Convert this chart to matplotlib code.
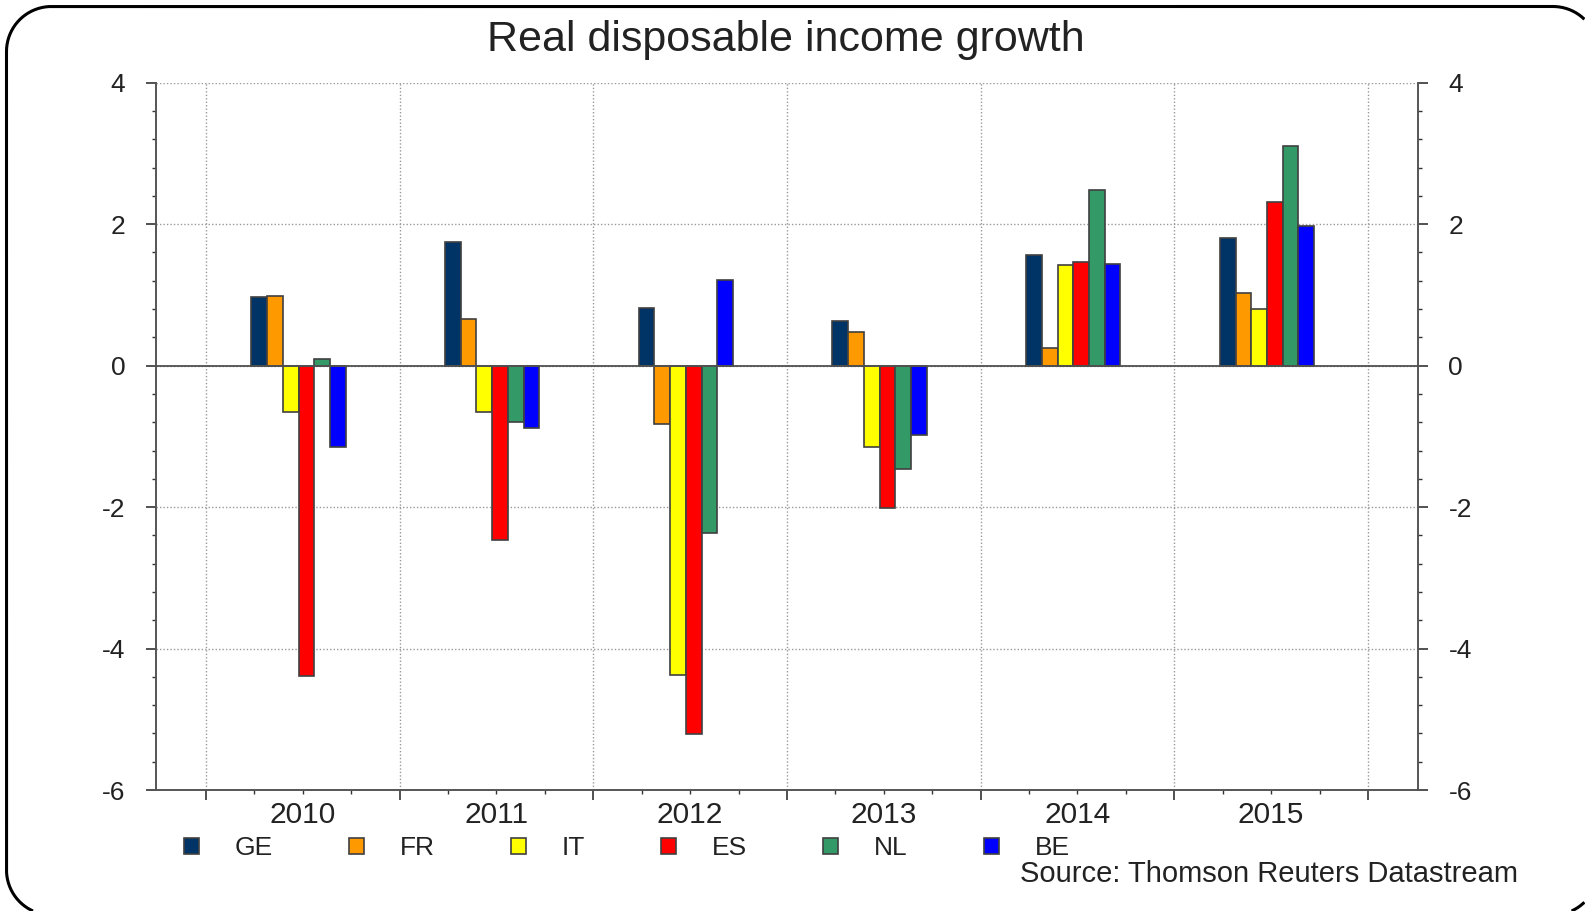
import numpy as np
import matplotlib.pyplot as plt
from matplotlib.lines import Line2D
from matplotlib.patches import Patch
from matplotlib.ticker import MultipleLocator, FixedLocator

plt.rcParams['font.family'] = ['Liberation Sans', 'DejaVu Sans']
plt.rcParams['axes.unicode_minus'] = False

years = ['2010', '2011', '2012', '2013', '2014', '2015']
countries = ['GE', 'FR', 'IT', 'ES', 'NL', 'BE']
colors = ['#003366', '#FF9900', '#FFFF00', '#FF0000', '#339966', '#0000FF']

ge = [0.97, 1.75, 0.81, 0.63, 1.56, 1.80]
fr = [0.99, 0.66, -0.83, 0.48, 0.25, 1.02]
it = [-0.66, -0.66, -4.37, -1.15, 1.42, 0.80]
es = [-4.39, -2.47, -5.21, -2.01, 1.47, 2.31]
nl = [0.09, -0.79, -2.36, -1.46, 2.49, 3.11]
be = [-1.15, -0.88, 1.21, -0.98, 1.43, 1.97]
series = [ge, fr, it, es, nl, be]

W, H = 1585, 911
fig = plt.figure(figsize=(W / 100, H / 100), dpi=100)
ax = fig.add_axes([0.0984, 0.1328, 0.7962, 0.7764])

# rounded frame (pixel coords); it runs off the right and bottom edges,
# so only the part inside the canvas is kept
def corner(cx, cy, a0, a1, r=45):
    a = np.radians(np.linspace(a0, a1, 60))
    return cx + r * np.cos(a), cy + r * np.sin(a)

xl, xr, yb, yt = 6.5, 1598, -4, H - 6.5
pieces = [corner(xr - 45, yb + 45, 270, 360),
          corner(xr - 45, yt - 45, 0, 90),
          corner(xl + 45, yt - 45, 90, 180),
          corner(xl + 45, yb + 45, 180, 270)]
px = np.concatenate([p[0] for p in pieces] + [pieces[0][0][:1]])
py = np.concatenate([p[1] for p in pieces] + [pieces[0][1][:1]])
inside = (px <= W) & (py >= 0)
px = np.where(inside, px, np.nan)
py = np.where(inside, py, np.nan)
fig.add_artist(Line2D(px, py, transform=None, color='black', lw=2.2,
                      solid_capstyle='butt'))

x = np.arange(len(years))
w = 0.081
for i, (vals, col) in enumerate(zip(series, colors)):
    ax.bar(x + (i - 2.5) * w - 0.022, vals, width=w, color=col,
           edgecolor='#404040', linewidth=1.2, zorder=3)

ax.axhline(0, color='#505050', lw=1.3, zorder=4)

ax.set_xlim(-0.758, 5.758)
ax.set_ylim(-6, 4)

# year boundaries as major ticks, quarters as minor ticks (labels at centres)
bounds = np.arange(-0.5, 6.0, 1.0)
ax.xaxis.set_major_locator(FixedLocator(bounds))
ax.set_xticklabels([])
quarters, qlabels = [], []
for k, yr in enumerate(years):
    for q, lab in ((0.25, ''), (0.5, yr), (0.75, '')):
        quarters.append(bounds[k] + q)
        qlabels.append(lab)
ax.xaxis.set_minor_locator(FixedLocator(quarters))
ax.set_xticklabels(qlabels, minor=True)

ax.yaxis.set_major_locator(MultipleLocator(2))
ax.yaxis.set_minor_locator(MultipleLocator(0.4))
ax.tick_params(axis='y', which='both', left=True, right=True,
               labelleft=True, labelright=True, direction='out',
               colors='#333333', labelsize=19, labelcolor='#222222')
ax.tick_params(axis='y', which='major', length=7, width=1.2, pad=15)
ax.tick_params(axis='y', which='minor', length=3, width=1.0)
ax.tick_params(axis='x', which='major', length=7, width=1.2, direction='out',
               colors='#333333')
ax.tick_params(axis='x', which='minor', length=3, width=1.0, direction='out',
               colors='#333333', labelsize=21.5, labelcolor='#222222', pad=5)

ax.grid(True, which='major', axis='both', linestyle=(0, (1, 1.5)),
        color='#999999', lw=1.0, zorder=0)

ax.spines['top'].set_visible(False)
for s in ('left', 'right', 'bottom'):
    ax.spines[s].set_color('#555555')
    ax.spines[s].set_linewidth(1.4)

fig.text(0.496, 0.956, 'Real disposable income growth', ha='center',
         va='center', fontsize=31, color='#222222')

handles = [Patch(facecolor=c, edgecolor='#404040', lw=1.2) for c in colors]
fig.legend(handles, countries, loc='center left', bbox_to_anchor=(0.116, 0.069),
           ncol=6, frameon=False, fontsize=19, handlelength=0.57,
           handleheight=0.57, handletextpad=1.36, columnspacing=2.88,
           borderpad=0, borderaxespad=0, labelcolor='#222222')

fig.text(0.958, 0.041, 'Source: Thomson Reuters Datastream', ha='right',
         va='center', fontsize=21, color='#222222')

fig.savefig('out.png', dpi=100)
